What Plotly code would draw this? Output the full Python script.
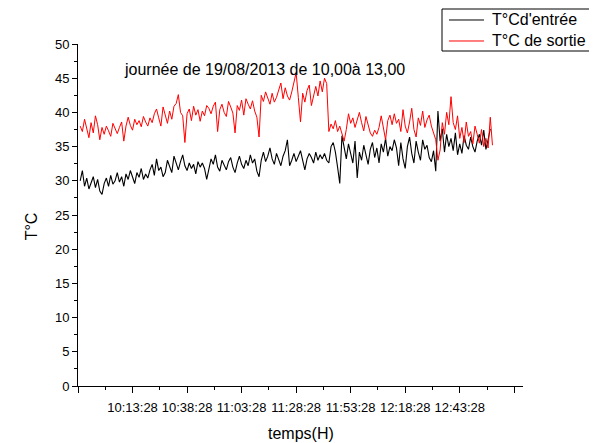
import pandas as pd
import plotly.graph_objects as go

# ---- data ----
start_time = "2013-08-19 09:49:28"
step_seconds = 60

entree = [
    30.0, 31.5, 29.2, 30.4, 28.8, 29.8, 30.6, 29.0, 30.2, 28.5, 28.0, 29.6, 30.4, 29.2, 30.8, 29.5, 30.0, 31.2, 29.8, 30.6, 29.2, 31.0, 30.2, 31.5, 30.4, 29.6, 31.2, 30.5, 31.8, 30.2, 31.0, 30.4, 31.6,
    32.4, 30.8, 33.2, 31.5, 32.0, 30.6, 31.2, 33.0, 32.0, 31.2, 33.6, 32.4, 31.6, 32.8, 33.8, 32.2, 31.5, 32.6, 31.8, 32.4, 31.0, 32.8, 32.0,
    32.6, 31.8, 30.2, 32.0, 33.2, 32.4, 33.8, 32.0, 31.4, 33.0, 32.2, 31.6, 32.8, 33.4, 32.0, 31.2, 32.6, 33.6, 32.4, 31.8, 33.0, 32.2, 33.8, 32.6, 33.2, 31.4, 30.6, 33.0, 34.2, 32.8, 33.6, 34.8, 33.2, 32.4, 34.0, 33.0, 32.2, 33.6, 34.4, 36.0, 32.2,
    33.0, 34.0, 32.8, 33.6, 34.4, 33.0, 31.6, 33.2, 34.0, 33.4, 32.6, 34.2, 33.0, 33.8, 33.2, 34.0, 33.0,
    32.6, 35.0, 35.6, 34.2, 32.0, 29.6, 36.6, 34.8, 33.2, 35.4, 34.0, 32.6, 35.8, 30.4, 34.2, 33.0, 35.2, 33.8, 32.4, 34.6, 35.6, 33.4, 34.8, 32.6, 35.4, 34.2, 36.2, 33.6, 35.0, 34.4, 36.0,
    34.8, 32.2, 35.6, 33.2, 31.8, 35.0, 36.4, 34.0, 32.6, 35.8, 34.2, 33.0, 36.0, 34.6, 35.2, 33.4, 32.8, 34.4,
    31.4, 40.2, 35.8, 37.6, 34.2, 36.8,
    35.0, 36.2, 34.4, 37.0, 33.8, 35.4, 34.0, 36.6, 35.2, 34.6, 36.4, 35.0, 34.2, 35.8, 36.8, 35.2, 37.4, 34.6, 36.0, 37.6,
]

sortie = [
    38.0, 37.2, 39.0, 37.5, 36.3, 38.5, 37.0, 39.5, 38.2, 36.0, 37.8, 36.8, 38.0, 37.3, 36.5, 38.4, 37.6, 36.9, 37.8, 38.6, 35.8, 38.0, 39.3, 38.1, 37.4, 39.0, 38.2, 38.8, 37.9, 39.4, 38.6, 38.0, 39.2,
    38.5, 39.8, 40.5, 39.2, 38.0, 40.8, 39.6, 38.4, 40.2, 39.0, 40.9, 41.3, 42.6, 40.0, 39.5, 35.6, 39.8, 40.5, 38.8, 40.9, 39.6, 40.4, 38.7,
    40.2, 39.5, 41.0, 40.6, 39.8, 40.9, 41.5, 37.2, 40.4, 41.2, 40.0, 39.4, 41.6, 40.8, 39.9, 37.0, 41.0, 40.3, 41.8, 39.6, 42.0, 41.2, 40.5, 41.7, 40.2, 39.3, 36.4, 42.5, 41.6, 43.0, 42.0, 41.2, 42.8, 41.5, 42.2, 43.4, 44.3, 42.0, 43.6, 42.4, 41.8,
    43.0, 44.5, 45.8, 42.2, 38.6, 42.8, 41.5, 43.2, 44.0, 41.0, 42.6, 43.8, 42.4, 44.6, 43.0, 45.0, 44.2,
    37.2, 38.3, 37.6, 38.8, 37.2, 38.0, 36.8, 35.8, 37.5, 39.8, 38.4, 39.2, 37.8, 38.9, 40.0, 38.5, 37.3, 39.4, 38.2, 37.0, 36.5, 37.4, 36.8, 37.8, 39.5, 38.0, 36.0, 38.8, 39.6, 38.2, 39.8,
    38.4, 39.0, 37.2, 40.4, 38.0, 37.0, 38.6, 40.6, 37.5, 36.4, 39.2, 38.1, 40.2, 37.8, 38.9, 39.6, 38.0, 37.0, 36.0,
    33.0, 34.5, 38.5, 36.8, 40.0, 38.2,
    42.3, 38.5, 37.5, 39.5, 36.2, 37.8, 35.6, 38.6, 36.5, 37.2, 35.4, 38.0, 36.8, 35.5, 37.5, 35.0, 36.2, 34.8, 39.3, 35.2,
]

series_names = ["T°Cd'entrée", "T°C de sortie"]
series_colors = ["#000000", "#ff0000"]

x_major = ["09:48:28", "10:13:28", "10:38:28", "11:03:28", "11:28:28",
           "11:53:28", "12:18:28", "12:43:28", "13:08:28"]
x_major_labels = ["", "10:13:28", "10:38:28", "11:03:28", "11:28:28",
                  "11:53:28", "12:18:28", "12:43:28", ""]
x_minor = ["10:00:58", "10:25:58", "10:50:58", "11:15:58", "11:40:58",
           "12:05:58", "12:30:58", "12:55:58"]
x_range = ["09:48:28", "13:12:28"]

day = "2013-08-19 "
t_in = pd.date_range(start_time, periods=len(entree), freq=f"{step_seconds}s")
t_out = pd.date_range(start_time, periods=len(sortie), freq=f"{step_seconds}s")

fig = go.Figure()
fig.add_trace(go.Scatter(x=t_in, y=entree, mode="lines", name=series_names[0],
                         line=dict(color=series_colors[0], width=1.1)))
fig.add_trace(go.Scatter(x=t_out, y=sortie, mode="lines", name=series_names[1],
                         line=dict(color=series_colors[1], width=1)))

font = "Liberation Sans, Arial, sans-serif"

# legend drawn by hand (box, key lines, labels) in paper coordinates
leg_x0, leg_x1, leg_y0, leg_y1 = 0.818, 1.155, 0.9795, 1.1023
key_x0, key_x1, text_x = 0.8337, 0.9124, 0.9258
row_y = [1.0702, 1.0088]

shapes = [dict(type="rect", xref="paper", yref="paper", x0=leg_x0, x1=leg_x1,
               y0=leg_y0, y1=leg_y1, line=dict(color="black", width=1),
               fillcolor="rgba(0,0,0,0)")]
annotations = [
    dict(text="journée de 19/08/2013 de 10,00à 13,00", x=0.419, y=0.956,
         xref="paper", yref="paper", showarrow=False,
         font=dict(size=16, family=font)),
    dict(text="temps(H)", x=0.5, y=-0.140, xref="paper", yref="paper",
         showarrow=False, yanchor="middle", font=dict(size=16, family=font)),
    dict(text="T°C", x=-0.126, y=0.468, xref="paper", yref="paper",
         showarrow=False, textangle=-90, font=dict(size=16, family=font)),
]
for name, color, ry in zip(series_names, series_colors, row_y):
    shapes.append(dict(type="line", xref="paper", yref="paper", x0=key_x0, x1=key_x1,
                       y0=ry, y1=ry, line=dict(color=color, width=1)))
    annotations.append(dict(text=name, x=text_x, y=ry, xref="paper", yref="paper",
                            xanchor="left", yanchor="middle", showarrow=False,
                            font=dict(size=16, family=font)))

fig.update_layout(
    width=589, height=435,
    margin=dict(l=70, r=74, t=36, b=57),
    paper_bgcolor="white", plot_bgcolor="white",
    font=dict(family=font, color="black", size=13),
    showlegend=False,
    shapes=shapes,
    annotations=annotations,
)
fig.update_xaxes(
    type="date",
    range=[day + x_range[0], day + x_range[1]],
    tickmode="array",
    tickvals=[day + v for v in x_major],
    ticktext=x_major_labels,
    ticks="outside", ticklen=6, tickwidth=1, tickcolor="black",
    ticklabelstandoff=3,
    showline=True, linecolor="black", linewidth=1,
    showgrid=False, zeroline=False,
    tickfont=dict(size=13, family=font),
    minor=dict(tickmode="array", tickvals=[day + v for v in x_minor],
               ticks="outside", ticklen=3, tickcolor="black", showgrid=False),
)
fig.update_yaxes(
    range=[0, 50], dtick=5, tick0=0,
    ticks="outside", ticklen=5, tickwidth=1, tickcolor="black",
    showline=True, linecolor="black", linewidth=1,
    showgrid=False, zeroline=False,
    tickfont=dict(size=13, family=font),
    minor=dict(dtick=2.5, ticks="outside", ticklen=3, tickcolor="black", showgrid=False),
)

fig.write_html("out.html")
